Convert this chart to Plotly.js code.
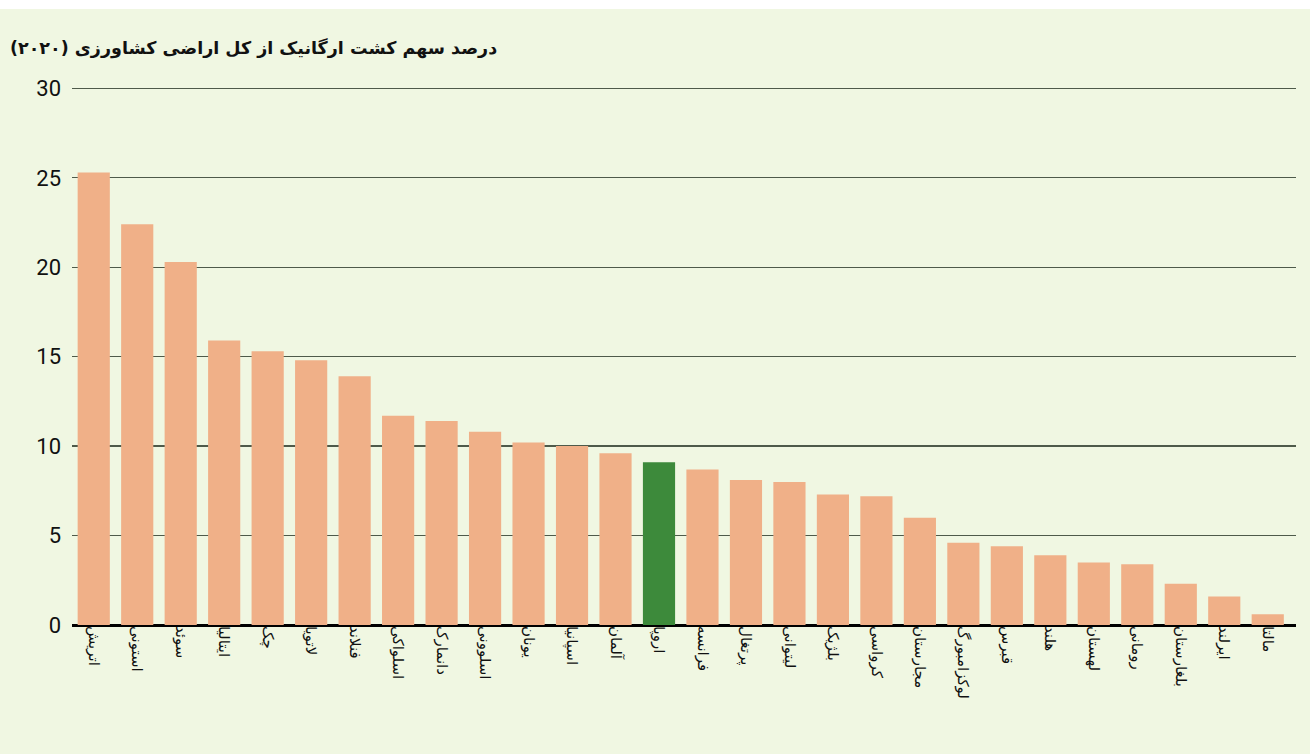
<!DOCTYPE html>
<html>
<head>
<meta charset="utf-8">
<script src="https://cdn.plot.ly/plotly-3.0.1.min.js"></script>
<style>
html,body{margin:0;padding:0;background:#ffffff;}
#chart{width:1310px;height:745px;margin-top:9px;}
</style>
</head>
<body>
<div id="chart"></div>
<script>
const countries = ["اتریش","استونی","سوئد","ایتالیا","چک","لاتویا","فنلاند","اسلواکی","دانمارک","اسلوونی","یونان","اسپانیا","آلمان","اروپا","فرانسه","پرتغال","لیتوانی","بلژیک","کرواسی","مجارستان","لوکزامبورگ","قبرس","هلند","لهستان","رومانی","بلغارستان","ایرلند","مالتا"];
const shares = [25.3,22.4,20.3,15.9,15.3,14.8,13.9,11.7,11.4,10.8,10.2,10.0,9.6,9.1,8.7,8.1,8.0,7.3,7.2,6.0,4.6,4.4,3.9,3.5,3.4,2.3,1.6,0.6];
const highlight = "اروپا";
const yTicks = [0,5,10,15,20,25,30];
const titleText = "\u202Bدرصد سهم کشت ارگانیک از کل اراضی کشاورزی (۲۰۲۰)\u202C";

const colors = countries.map(c => c === highlight ? "#3d8a3b" : "#f0b088");

const trace = {
  type: "bar",
  x: countries,
  y: shares,
  marker: {color: colors, line: {width: 0}},
  hoverinfo: "x+y"
};

const layout = {
  width: 1310,
  height: 745,
  paper_bgcolor: "#f0f7e2",
  plot_bgcolor: "#f0f7e2",
  margin: {l: 72, r: 14, t: 74, b: 129},
  bargap: 0.26,
  showlegend: false,
  title: {
    text: titleText,
    font: {family: "DejaVu Sans, sans-serif", size: 17.5, color: "#111111", weight: "bold"},
    x: 10/1310, xref: "container", xanchor: "left",
    y: 1 - 39/745, yref: "container", yanchor: "middle"
  },
  xaxis: {
    type: "category",
    range: [-0.5, 27.65],
    tickangle: 90,
    tickfont: {family: "DejaVu Sans, sans-serif", size: 15, color: "#111111"},
    showgrid: false,
    showline: false,
    ticks: "",
    zeroline: false,
    fixedrange: true
  },
  yaxis: {
    range: [0, 30.3],
    tickvals: yTicks,
    ticktext: yTicks.map(String),
    tickfont: {family: "Liberation Sans Narrow, Roboto, sans-serif", size: 22, color: "#111111"},
    ticklabelstandoff: 10,
    showgrid: true,
    gridcolor: "#4e5a4a",
    gridwidth: 1.3,
    zeroline: true,
    zerolinecolor: "#000000",
    zerolinewidth: 3,
    showline: false,
    ticks: "",
    fixedrange: true
  }
};

Plotly.newPlot("chart", [trace], layout, {displayModeBar: false, staticPlot: true});
</script>
</body>
</html>
